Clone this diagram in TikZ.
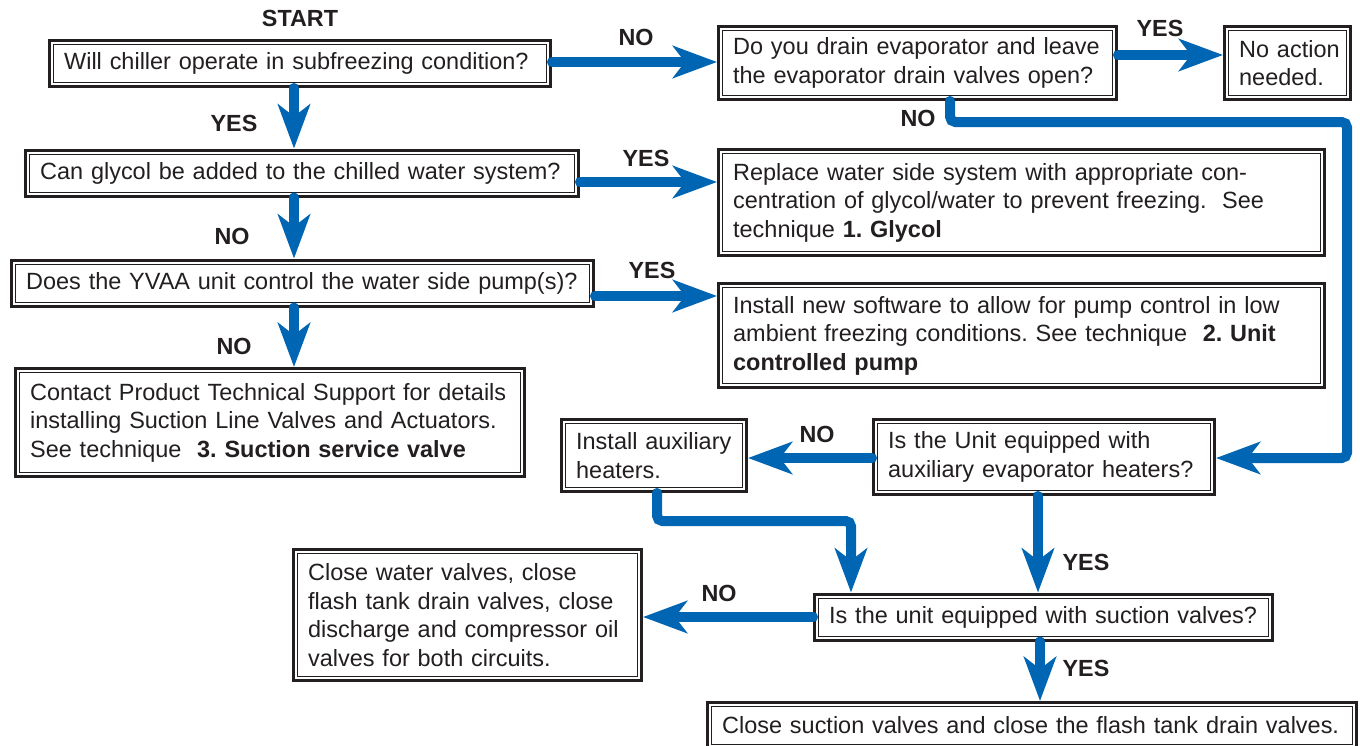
\documentclass[tikz,border=0pt]{standalone}
\usepackage{fontspec}
\setmainfont{Liberation Sans}
\usetikzlibrary{arrows.meta}
\definecolor{ink}{HTML}{231F20}
\definecolor{flow}{HTML}{0066B3}
\newcommand\boxfont{\fontsize{17.6}{21.4}\selectfont\frenchspacing}
\newcommand\lblfont{\fontsize{17.5}{20}\selectfont\bfseries}
\newcommand\tl[1]{\mbox{#1}}
\begin{document}
\begin{tikzpicture}[x=0.75pt,y=-0.75pt,
  box/.style={draw=ink, line width=0.75pt, fill=white, align=left, text=ink,
    inner xsep=8pt, inner ysep=0pt, outer sep=4.1pt, font=\boxfont,
    append after command={\pgfextra{\draw[draw=ink, line width=2.25pt]
      ([shift={(1.1pt,1.1pt)}]\tikzlastnode.south west) rectangle
      ([shift={(-1.1pt,-1.1pt)}]\tikzlastnode.north east);}}},
  lbl/.style={font=\lblfont, text=ink, inner sep=0pt},
  flowline/.style={draw=flow, line width=7.5pt, line cap=round, rounded corners=4pt,
    -{Stealth[length=33pt,width=24pt,inset=9pt]}}]
\useasboundingbox[fill=white] (0,0) rectangle (1360,746);

% boxes
\node[box, minimum width=369.75pt, minimum height=28.5pt, text width=353.75pt] (q1) at (300,63.5)
  {\tl{Will chiller operate in subfreezing condition?}};
\node[box, minimum width=292.5pt, minimum height=48.75pt, text width=276.5pt] (q2) at (917.5,63)
  {\tl{Do you drain evaporator and leave}\\\tl{the evaporator drain valves open?}};
\node[box, minimum width=88.5pt, minimum height=48.75pt, text width=72.5pt] (noact) at (1287.5,63)
  {\tl{No action}\\\tl{needed.}};
\node[box, minimum width=408.75pt, minimum height=28.5pt, text width=392.75pt] (q4) at (302,173)
  {\tl{Can glycol be added to the chilled water system?}};
\node[box, minimum width=448.5pt, minimum height=73.5pt, text width=432.5pt] (rep) at (1021.5,202.5)
  {\tl{Replace water side system with appropriate con-}\\\tl{centration of glycol/water to prevent freezing.\ \ See}\\\tl{technique \textbf{1. Glycol}}};
\node[box, minimum width=430.5pt, minimum height=28.5pt, text width=414.5pt] (q6) at (302.5,283)
  {\tl{Does the YVAA unit control the water side pump(s)?}};
\node[box, minimum width=448.5pt, minimum height=72pt, text width=432.5pt] (inst) at (1021.5,335.5)
  {\tl{Install new software to allow for pump control in low}\\\tl{ambient freezing conditions. See technique\ \ \textbf{2. Unit}}\\\tl{\textbf{controlled pump}}};
\node[box, minimum width=375.75pt, minimum height=75pt, text width=359.75pt] (contact) at (270,422.5)
  {\tl{Contact Product Technical Support for details}\\\tl{installing Suction Line Valves and Actuators.}\\\tl{See technique\ \ \textbf{3. Suction service valve}}};
\node[box, minimum width=132.75pt, minimum height=48pt, text width=116.75pt] (aux) at (654,455.5)
  {\tl{Install auxiliary}\\\tl{heaters.}};
\node[box, minimum width=249.75pt, minimum height=50.25pt, text width=233.75pt] (q10) at (1044,457)
  {\tl{Is the Unit equipped with}\\\tl{auxiliary evaporator heaters?}};
\node[box, minimum width=255pt, minimum height=92.25pt, text width=239pt] (closew) at (467.5,615)
  {\tl{Close water valves, close}\\\tl{flash tank drain valves, close}\\\tl{discharge and compressor oil}\\\tl{valves for both circuits.}};
\node[box, minimum width=337.5pt, minimum height=28.5pt, text width=321.5pt] (q12) at (1043.5,617)
  {\tl{Is the unit equipped with suction valves?}};
\node[box, minimum width=480.75pt, minimum height=28.5pt, text width=464.75pt] (closes) at (1032,725.5)
  {\tl{Close suction valves and close the flash tank drain valves.}};

% helper coordinates
\coordinate (y62) at (0,62);
\coordinate (y55) at (0,55);
\coordinate (y182) at (0,182);
\coordinate (y296) at (0,296);
\coordinate (y458) at (0,458);
\coordinate (y617) at (0,617);
\coordinate (x294) at (294,0);
\coordinate (x950) at (950,0);
\coordinate (x657) at (657,0);
\coordinate (x851) at (851,0);
\coordinate (x1038) at (1038,0);
\coordinate (x1040) at (1040,0);
\coordinate (r1) at (1347,122);
\coordinate (a1) at (657,521);

% connectors
\draw[flowline] (q1.east |- y62) -- (q2.west |- y62);
\draw[flowline] (q2.east |- y55) -- (noact.west |- y55);
\draw[flowline] (q2.south -| x950) -- (x950 |- r1) -- (r1) -- (r1 |- y458) -- (q10.east |- y458);
\draw[flowline] (q1.south -| x294) -- (q4.north -| x294);
\draw[flowline] (q4.east |- y182) -- (rep.west |- y182);
\draw[flowline] (q4.south -| x294) -- (q6.north -| x294);
\draw[flowline] (q6.east |- y296) -- (inst.west |- y296);
\draw[flowline] (q6.south -| x294) -- (contact.north -| x294);
\draw[flowline] (q10.west |- y458) -- (aux.east |- y458);
\draw[flowline] (aux.south -| x657) -- (a1) -- (x851 |- a1) -- (q12.north -| x851);
\draw[flowline] (q10.south -| x1038) -- (q12.north -| x1038);
\draw[flowline] (q12.west |- y617) -- (closew.east |- y617);
\draw[flowline] (q12.south -| x1040) -- (closes.north -| x1040);

% labels
\node[lbl] (lstart) at (300,18) {START};
\node[lbl] (l1) at (636,37) {NO};
\node[lbl] (l2) at (1160,28) {YES};
\node[lbl] (l3) at (918,118) {NO};
\node[lbl] (l4) at (234,123) {YES};
\node[lbl] (l5) at (646,158) {YES};
\node[lbl] (l6) at (232,236) {NO};
\node[lbl] (l7) at (652,270) {YES};
\node[lbl] (l8) at (234,346) {NO};
\node[lbl] (l9) at (817,434) {NO};
\node[lbl] (l10) at (1086,562) {YES};
\node[lbl] (l11) at (719,593) {NO};
\node[lbl] (l12) at (1086,668) {YES};
\end{tikzpicture}
\end{document}
